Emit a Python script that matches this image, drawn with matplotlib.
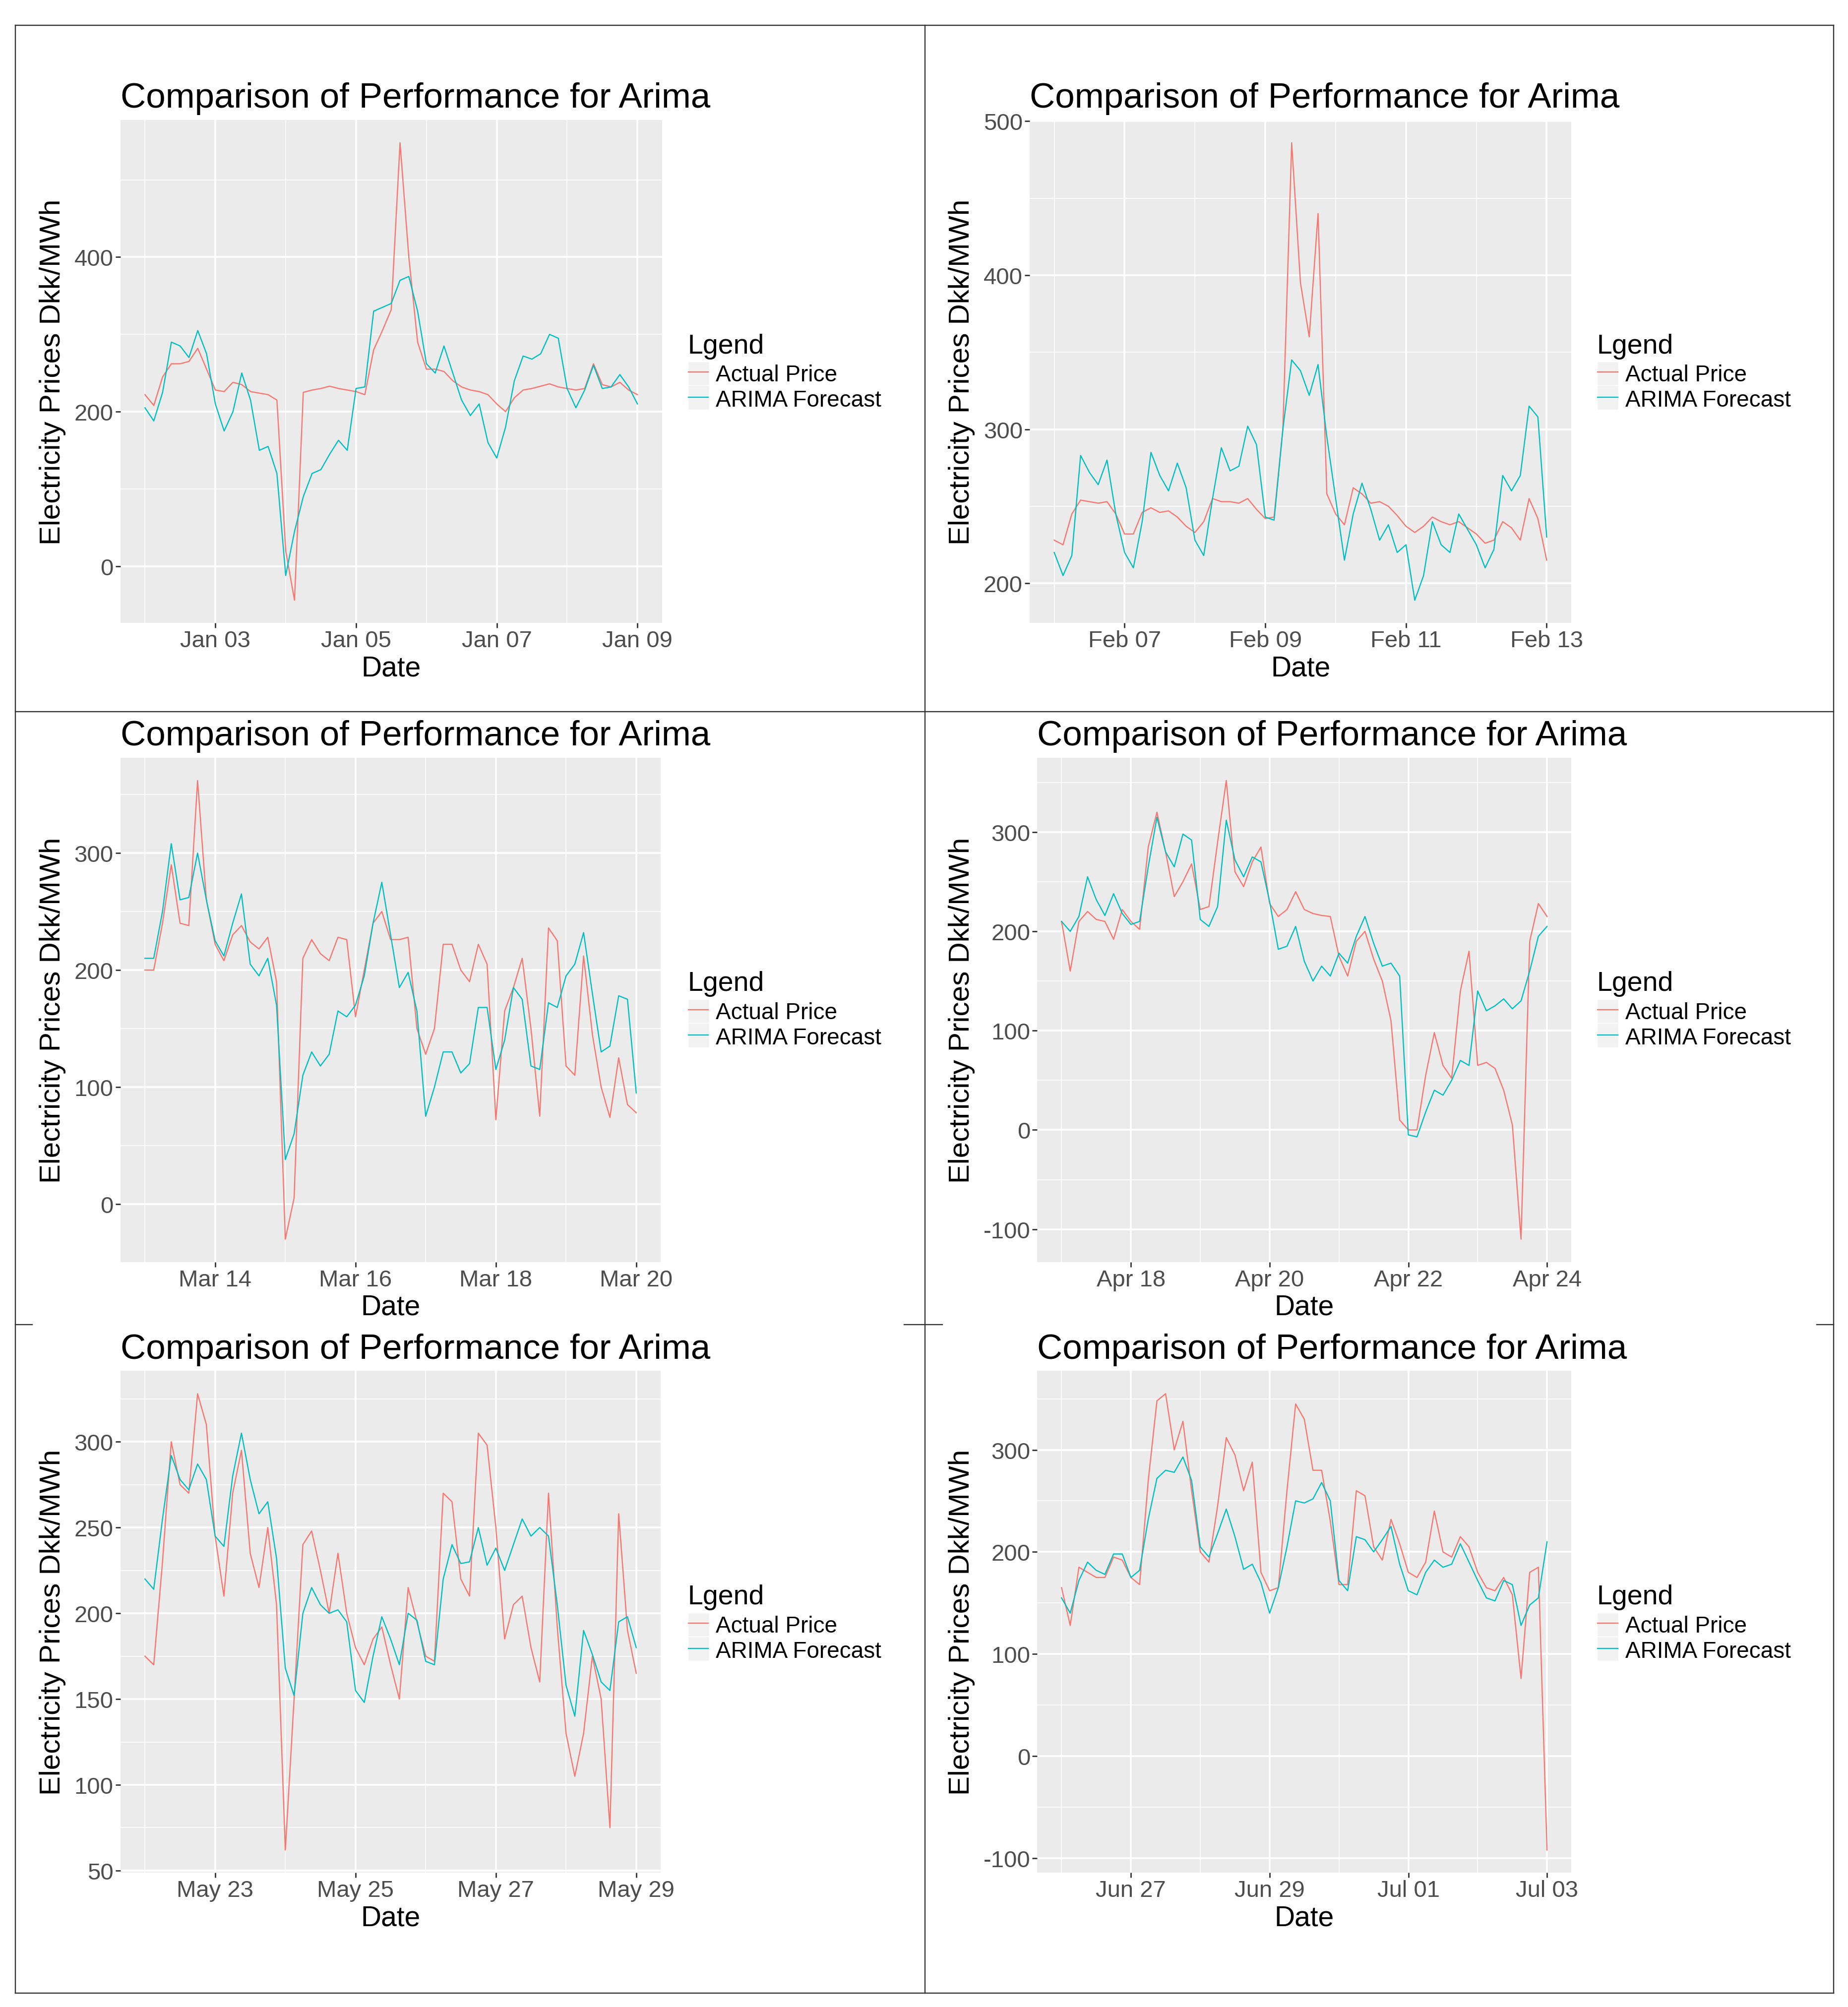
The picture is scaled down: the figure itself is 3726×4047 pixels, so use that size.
import numpy as np
import matplotlib
matplotlib.use("Agg")
import matplotlib.pyplot as plt
import matplotlib.dates as mdates
from matplotlib.lines import Line2D
from matplotlib.patches import Rectangle
from matplotlib.ticker import MultipleLocator

plt.rcParams["font.family"] = ["Liberation Sans", "DejaVu Sans"]
plt.rcParams["axes.unicode_minus"] = False

RED = "#F8766D"
TEAL = "#00BFC4"
PANEL_BG = "#EBEBEB"
TICK_GREY = "#4D4D4D"
FRAME = "#333333"

# ---- data: prices every 3 hours over one week ----
STEP_H = 3
starts = ["2015-01-02", "2015-02-06", "2015-03-13",
          "2015-04-17", "2015-05-22", "2015-06-26"]
y_steps = [200, 100, 100, 100, 50, 100]

jan_actual = [222, 208, 245, 262, 262, 265, 282, 255, 228, 226,
              238, 235, 226, 224, 222, 215, 20, -44, 225, 228,
              230, 233, 230, 228, 226, 222, 280, 305, 332, 548,
              400, 290, 255, 255, 252, 240, 232, 228, 226, 222,
              210, 200, 218, 228, 230, 233, 236, 232, 230, 228,
              230, 262, 235, 232, 238, 228, 222]
jan_arima = [205, 188, 225, 290, 285, 270, 305, 275, 210, 175,
             200, 250, 215, 150, 155, 120, -12, 45, 90, 120,
             125, 145, 163, 150, 230, 232, 330, 335, 340, 370,
             375, 330, 262, 250, 285, 250, 215, 195, 210, 160,
             140, 180, 240, 272, 268, 275, 300, 295, 230, 205,
             228, 260, 230, 232, 248, 232, 210]

feb_actual = [228, 225, 245, 254, 253, 252, 253, 245, 232, 232,
              246, 249, 246, 247, 243, 237, 233, 240, 255, 253,
              253, 252, 255, 248, 242, 243, 300, 486, 395, 360,
              440, 258, 245, 238, 262, 258, 252, 253, 250, 244,
              237, 233, 237, 243, 240, 238, 240, 236, 232, 226,
              228, 240, 236, 228, 255, 242, 215]
feb_arima = [220, 205, 218, 283, 272, 264, 280, 245, 220, 210,
             240, 285, 270, 260, 278, 262, 228, 218, 255, 288,
             273, 276, 302, 290, 243, 241, 300, 345, 338, 322,
             342, 295, 255, 215, 245, 265, 248, 228, 238, 220,
             225, 189, 205, 240, 225, 220, 245, 235, 225, 210,
             222, 270, 260, 270, 315, 308, 230]

mar_actual = [200, 200, 240, 290, 240, 238, 362, 260, 222, 208,
              230, 238, 224, 218, 228, 190, -30, 5, 210, 226,
              214, 208, 228, 226, 160, 200, 240, 250, 226, 226,
              228, 150, 128, 150, 222, 222, 200, 190, 222, 205,
              72, 165, 185, 210, 150, 75, 236, 225, 118, 110,
              212, 145, 100, 74, 125, 85, 78]
mar_arima = [210, 210, 250, 308, 260, 262, 300, 260, 225, 212,
             240, 265, 205, 195, 210, 170, 38, 60, 110, 130,
             118, 128, 165, 160, 170, 195, 240, 275, 230, 185,
             198, 165, 75, 100, 130, 130, 112, 120, 168, 168,
             115, 140, 185, 175, 118, 115, 172, 168, 195, 205,
             232, 180, 130, 135, 178, 175, 95]

apr_actual = [210, 160, 210, 220, 212, 210, 192, 222, 210, 202,
              285, 320, 280, 235, 250, 268, 222, 225, 290, 352,
              260, 245, 270, 285, 228, 215, 222, 240, 222, 218,
              216, 215, 175, 155, 190, 200, 172, 150, 110, 10,
              0, 0, 55, 98, 65, 52, 140, 180, 65, 68,
              62, 40, 5, -110, 190, 228, 215]
apr_arima = [210, 200, 215, 255, 232, 216, 238, 218, 207, 210,
             265, 315, 280, 265, 298, 292, 212, 205, 225, 312,
             272, 255, 275, 270, 230, 182, 185, 205, 170, 150,
             165, 155, 178, 168, 195, 215, 188, 165, 168, 155,
             -5, -7, 18, 40, 35, 50, 70, 65, 140, 120,
             125, 132, 122, 130, 160, 195, 205]

may_actual = [175, 170, 230, 300, 275, 270, 328, 310, 245, 210,
              270, 295, 235, 215, 250, 205, 62, 150, 240, 248,
              225, 200, 235, 200, 180, 170, 185, 192, 170, 150,
              215, 195, 175, 172, 270, 265, 220, 210, 305, 298,
              250, 185, 205, 210, 180, 160, 270, 192, 130, 105,
              130, 175, 150, 75, 258, 190, 165]
may_arima = [220, 214, 255, 292, 278, 272, 287, 278, 245, 239,
             280, 305, 278, 258, 265, 232, 168, 152, 200, 215,
             205, 200, 202, 195, 155, 148, 175, 198, 185, 170,
             200, 196, 172, 170, 220, 240, 229, 230, 250, 228,
             238, 225, 240, 255, 245, 250, 245, 205, 158, 140,
             190, 176, 160, 155, 195, 198, 180]

jun_actual = [165, 128, 185, 180, 175, 175, 195, 192, 175, 168,
              270, 348, 355, 300, 328, 260, 200, 190, 245, 312,
              295, 260, 288, 180, 162, 165, 260, 345, 330, 280,
              280, 230, 168, 168, 260, 255, 205, 192, 232, 208,
              180, 175, 190, 240, 200, 195, 215, 205, 180, 165,
              162, 175, 158, 76, 180, 185, -92]
jun_arima = [155, 140, 172, 190, 182, 178, 198, 198, 175, 182,
             232, 272, 280, 278, 293, 270, 205, 195, 218, 242,
             215, 183, 188, 170, 140, 165, 205, 250, 248, 252,
             268, 250, 172, 162, 215, 212, 200, 212, 225, 188,
             162, 158, 180, 192, 185, 188, 208, 190, 172, 155,
             152, 172, 168, 128, 148, 155, 210]

actual_series = [jan_actual, feb_actual, mar_actual, apr_actual, may_actual, jun_actual]
arima_series = [jan_arima, feb_arima, mar_arima, apr_arima, may_arima, jun_arima]

# ---- layout, in units of the reference page (1443 wide) ----
W, H = 3726, 4048
S = 2.582


def fx(x):
    return x * S / W


def fy(y):
    return 1 - y * S / H


# left, right, top, bottom of each grey panel
panels = [(94, 517, 94, 487), (804, 1227, 94, 487),
          (94, 516, 592, 986), (810, 1227, 592, 986),
          (94, 516, 1071, 1463), (810, 1227, 1071, 1463)]
ylab_x = [41, 751]
legend_x = [537, 1247]

fig = plt.figure(figsize=(W / 100, H / 100), dpi=100)

for i, (l, r, t, b) in enumerate(panels):
    col = i % 2
    ax = fig.add_axes([fx(l), fy(b), fx(r) - fx(l), fy(t) - fy(b)])
    ax.set_facecolor(PANEL_BG)

    times = np.datetime64(starts[i], "h") + np.arange(0, 169, STEP_H).astype("timedelta64[h]")
    actual = np.array(actual_series[i], dtype=float)
    arima = np.array(arima_series[i], dtype=float)
    ax.plot(times, actual, color=RED, lw=1.7)
    ax.plot(times, arima, color=TEAL, lw=1.7)

    # ggplot-like 5% expansion
    d0 = mdates.date2num(times[0])
    d1 = mdates.date2num(times[-1])
    span = d1 - d0
    ax.set_xlim(d0 - 0.05 * span, d1 + 0.05 * span)
    lo = min(actual.min(), arima.min())
    hi = max(actual.max(), arima.max())
    pad = 0.05 * (hi - lo)
    ax.set_ylim(lo - pad, hi + pad)

    ax.set_xticks([d0 + k for k in (1, 3, 5, 7)])
    ax.set_xticks([d0 + k for k in (0, 2, 4, 6)], minor=True)
    ax.xaxis.set_major_formatter(mdates.DateFormatter("%b %d"))
    ax.yaxis.set_major_locator(MultipleLocator(y_steps[i]))
    ax.yaxis.set_minor_locator(MultipleLocator(y_steps[i] / 2))

    ax.grid(which="major", color="white", lw=2.6)
    ax.grid(which="minor", color="white", lw=1.2)
    ax.set_axisbelow(True)
    for sp in ax.spines.values():
        sp.set_visible(False)
    ax.tick_params(which="major", length=7, width=2, color=FRAME,
                   labelsize=34, labelcolor=TICK_GREY, pad=3)
    ax.tick_params(which="minor", length=0)

    ax.set_xlabel("Date", fontsize=41)
    ax.xaxis.set_label_coords(fx((l + r) / 2), fy(b + 41), transform=fig.transFigure)
    ax.xaxis.label.set_va("baseline")
    ax.set_ylabel("Electricity Prices Dkk/MWh", fontsize=42)
    ax.yaxis.set_label_coords(fx(ylab_x[col]), fy((t + b) / 2), transform=fig.transFigure)
    ax.yaxis.label.set_ha("center")
    ax.yaxis.label.set_va("center")

    fig.text(fx(l), fy(t - 10), "Comparison of Performance for Arima",
             fontsize=51, ha="left", va="baseline")

    # legend, ggplot style
    lx = legend_x[col]
    fig.text(fx(lx), fy(t + 182), "Lgend", fontsize=40, ha="left", va="baseline")
    for j, (name, colr) in enumerate([("Actual Price", RED), ("ARIMA Forecast", TEAL)]):
        base = t + 204 + j * 19.6
        key_top = t + 188.7 + j * 18.8
        fig.add_artist(Rectangle((fx(lx), fy(key_top + 18.8)), fx(16.7), fy(key_top) - fy(key_top + 18.8),
                                 transform=fig.transFigure, facecolor="#F2F2F2",
                                 edgecolor="white", lw=1))
        fig.add_artist(Line2D([fx(lx + 0.5), fx(lx + 16.2)], [fy(base - 7), fy(base - 7)],
                              transform=fig.transFigure, color=colr, lw=1.7))
        fig.text(fx(lx + 22), fy(base), name, fontsize=33, ha="left", va="baseline")

# ---- page frame ----
frame_lines = [
    ((12, 1432), (20, 20)), ((12, 1432), (1557, 1557)),
    ((12, 12), (20, 1557)), ((1432, 1432), (20, 1557)),
    ((722.3, 722.3), (20, 1557)), ((12, 1432), (556, 556)),
    ((12, 25.3), (1035, 1035)), ((706, 736), (1035, 1035)),
    ((1418.5, 1432), (1035, 1035)),
]
for xs, ys in frame_lines:
    fig.add_artist(Line2D([fx(v) for v in xs], [fy(v) for v in ys],
                          transform=fig.transFigure, color=FRAME, lw=1.7))

fig.savefig("out.png", dpi=100, facecolor="white")
